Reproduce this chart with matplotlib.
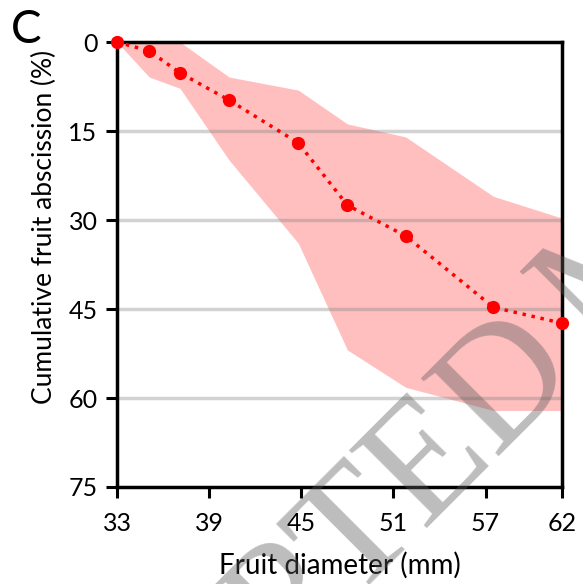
#Cumulative fruit abscission vs fruit diameter, panel C
import numpy as np
from matplotlib import pyplot as plt

#Data
diameter = [33, 35.1, 37.1, 40.3, 44.8, 48.0, 51.8, 57.5, 62]
abscission = [0, 1.5, 5.2, 9.8, 17.0, 27.5, 32.7, 44.7, 47.4]
band_low = [0, 0, 0, 5.9, 8.1, 13.8, 16.0, 26.0, 29.7]
band_high = [0, 5.9, 7.8, 19.9, 33.9, 51.9, 58.2, 62.1, 62.1]

x_ticks = [33, 39, 45, 51, 57, 62]
y_ticks = [0, 15, 30, 45, 60, 75]

plt.rcParams['font.family'] = ['Lato', 'DejaVu Sans']

fig = plt.figure(figsize=(5.83, 5.84), dpi=100)
ax = fig.add_axes([0.2007, 0.1661, 0.764, 0.7619])

#Shaded range
ax.fill_between(diameter, band_low, band_high, color='#ffbfbf', lw=0, zorder=1)

#Horizontal grid lines
for y in y_ticks[1:-1]:
    ax.axhline(y, color='#808080', alpha=0.35, lw=2.5, zorder=2)

#Mean curve
ax.plot(diameter, abscission, ':', color='red', lw=2.5, marker='o', ms=8.5,
        clip_on=False, zorder=5)

ax.set_xlim(33, 62)
ax.set_ylim(75, 0)
ax.set_xticks(x_ticks)
ax.set_yticks(y_ticks)
ax.tick_params(labelsize=18, width=2.2, length=8, direction='out')
ax.tick_params(axis='x', pad=10)
ax.tick_params(axis='y', pad=6)
for s in ax.spines.values():
    s.set_linewidth(2.5)

ax.set_xlabel('Fruit diameter (mm)', fontsize=20, labelpad=12)
ax.set_ylabel('Cumulative fruit abscission (%)', fontsize=19)
ax.yaxis.set_label_coords(-0.135, 0.584)

fig.text(0.018, 0.949, 'C', fontsize=33, va='center')

#Journal watermark
fig.text(0.997, 0.361, 'ACCEPTED', fontsize=120, family='Liberation Serif',
         color='#5a5a5a', alpha=0.4, rotation=45, rotation_mode='anchor',
         ha='right', va='baseline', zorder=10)
fig.text(1.017, 0.401, 'MANUSCRIPT', fontsize=120, family='Liberation Serif',
         color='#5a5a5a', alpha=0.4, rotation=45, rotation_mode='anchor',
         ha='left', va='baseline', zorder=10)

plt.savefig('out.png', dpi=100)
